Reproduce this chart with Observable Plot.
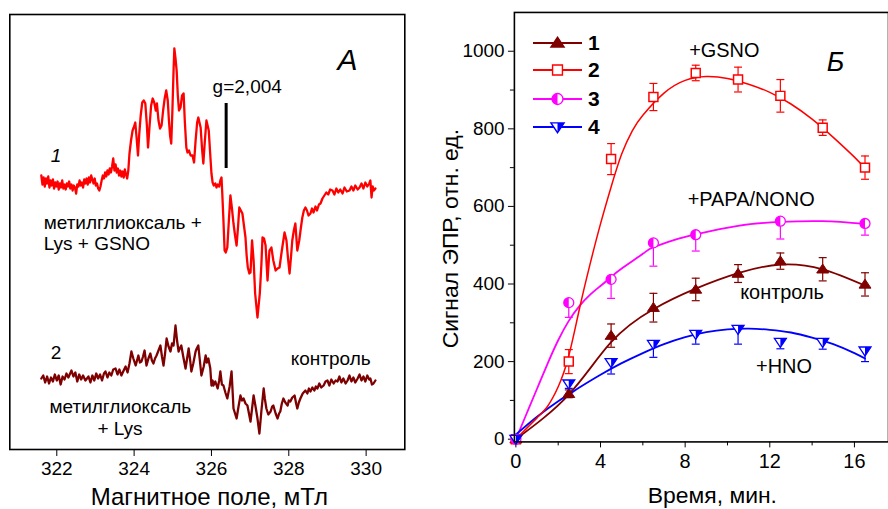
<!DOCTYPE html>
<html><head><meta charset="utf-8">
<script src="https://cdn.jsdelivr.net/npm/d3@7"></script>
<script src="https://cdn.jsdelivr.net/npm/@observablehq/plot@0.6"></script>
<style>
html,body{margin:0;padding:0;background:#fff;}
body{overflow:hidden;width:888px;height:509px;position:relative;font-family:"Liberation Sans",Arial,sans-serif;}
#left{position:absolute;left:0;top:0;}
#right{position:absolute;left:420px;top:0;}
</style></head><body>
<div id="left"></div><div id="right"></div>
<script>
// ---------- Panel A: EPR spectra (field in mT, signal in a.u.) ----------
const fieldTicks = [322, 324, 326, 328, 330];
const spec1Field = [321.60,321.63,321.66,321.69,321.72,321.75,321.78,321.81,321.84,321.87,321.90,321.93,321.96,321.99,322.02,322.05,322.08,322.11,322.14,322.17,322.20,322.23,322.26,322.29,322.32,322.35,322.38,322.41,322.44,322.47,322.50,322.53,322.56,322.59,322.62,322.65,322.68,322.71,322.74,322.77,322.80,322.83,322.86,322.89,322.92,322.95,322.98,323.01,323.04,323.07,323.10,323.13,323.16,323.19,323.22,323.25,323.28,323.31,323.34,323.37,323.40,323.43,323.46,323.49,323.52,323.55,323.58,323.61,323.64,323.67,323.70,323.73,323.76,323.79,323.82,323.85,323.88,323.92,323.96,323.99,324.03,324.07,324.10,324.13,324.17,324.21,324.25,324.29,324.33,324.36,324.40,324.44,324.48,324.52,324.56,324.59,324.63,324.67,324.71,324.75,324.79,324.83,324.87,324.90,324.93,324.96,324.99,325.02,325.04,325.07,325.10,325.13,325.16,325.20,325.24,325.28,325.31,325.35,325.38,325.42,325.46,325.51,325.55,325.59,325.63,325.66,325.69,325.72,325.76,325.79,325.83,325.87,325.90,325.93,325.97,326.00,326.03,326.06,326.10,326.13,326.16,326.20,326.23,326.26,326.28,326.31,326.34,326.37,326.41,326.45,326.49,326.53,326.57,326.61,326.65,326.69,326.72,326.76,326.80,326.84,326.88,326.91,326.94,326.98,327.01,327.05,327.09,327.13,327.16,327.19,327.22,327.25,327.29,327.32,327.36,327.40,327.45,327.50,327.55,327.60,327.66,327.71,327.76,327.82,327.89,327.94,327.98,328.02,328.06,328.09,328.13,328.17,328.22,328.27,328.31,328.35,328.39,328.43,328.47,328.51,328.56,328.60,328.64,328.69,328.73,328.78,328.82,328.87,328.92,328.97,329.02,329.07,329.13,329.18,329.23,329.28,329.33,329.39,329.44,329.50,329.57,329.62,329.67,329.72,329.78,329.83,329.88,329.93,329.98,330.03,330.08,330.11,330.14,330.17,330.20,330.24];
const spec1Signal = [5,-4,3,-6,2,-3,4,-7,0,-5,1,-8,-2,-6,-1,-9,-3,-7,0,-8,-4,-9,-3,-6,-1,-8,-4,-10,-5,-7,-13,-4,-6,0,-5,-2,-7,1,-3,2,-4,3,-2,5,1,-3,2,-5,-3,-8,-10,-6,0,5,2,8,4,10,6,12,8,14,22,10,16,8,12,5,10,4,9,3,11,6,2,10,27,40,50,53,58,40,25,45,65,78,80,77,55,33,55,75,82,78,70,77,60,52,55,70,82,90,80,60,45,37,70,110,132,122,110,85,70,73,85,87,60,33,28,30,25,25,18,40,58,63,58,53,30,17,40,60,55,50,25,7,-2,-5,-3,-7,-4,-6,0,3,-13,-40,-70,-72,-67,-40,-15,-28,-43,-55,-65,-45,-27,-30,-33,-45,-57,-75,-87,-93,-92,-60,-80,-113,-125,-137,-125,-113,-85,-57,-58,-65,-100,-70,-67,-80,-90,-88,-87,-70,-52,-60,-78,-93,-75,-60,-50,-43,-70,-60,-48,-37,-30,-27,-30,-35,-33,-28,-32,-26,-30,-24,-23,-18,-15,-12,-14,-9,-10,-14,-8,-12,-9,-13,-7,-11,-10,-6,-10,-5,-9,-7,-3,-8,-2,-6,-3,0,-17,-6,-10,-8];
const spec2Field = [321.60,321.65,321.70,321.75,321.80,321.85,321.90,321.95,322.00,322.05,322.10,322.15,322.20,322.25,322.30,322.38,322.43,322.48,322.53,322.58,322.63,322.68,322.74,322.82,322.87,322.92,322.97,323.02,323.07,323.12,323.17,323.22,323.26,323.31,323.36,323.41,323.46,323.52,323.57,323.62,323.67,323.73,323.78,323.83,323.88,323.93,323.98,324.04,324.11,324.15,324.19,324.23,324.27,324.32,324.37,324.42,324.46,324.50,324.54,324.58,324.63,324.68,324.72,324.76,324.80,324.84,324.89,324.94,324.98,325.02,325.07,325.11,325.15,325.18,325.22,325.27,325.33,325.37,325.41,325.45,325.48,325.53,325.59,325.62,325.66,325.70,325.74,325.80,325.85,325.88,325.92,325.97,326.00,326.03,326.05,326.10,326.16,326.20,326.23,326.27,326.31,326.36,326.41,326.47,326.52,326.55,326.57,326.61,326.65,326.70,326.75,326.79,326.83,326.88,326.93,326.97,327.01,327.05,327.09,327.14,327.19,327.24,327.29,327.35,327.38,327.42,327.47,327.53,327.57,327.60,327.66,327.71,327.75,327.78,327.82,327.86,327.91,327.97,328.00,328.04,328.09,328.15,328.19,328.22,328.26,328.30,328.36,328.43,328.48,328.52,328.56,328.61,328.66,328.70,328.74,328.79,328.84,328.90,328.95,329.00,329.05,329.10,329.16,329.21,329.26,329.31,329.36,329.41,329.47,329.52,329.57,329.62,329.67,329.72,329.78,329.83,329.88,329.93,329.98,330.03,330.08,330.11,330.15,330.19,330.24];
const spec2Signal = [0,3,-4,2,-5,1,-3,4,-2,3,-6,2,-1,5,1,8,2,6,-3,4,-1,3,-2,2,-4,3,-2,5,0,4,-2,5,7,1,6,3,9,10,4,9,3,8,12,6,15,27,20,13,23,16,17,22,28,13,20,25,18,15,20,23,28,33,22,13,25,40,32,27,35,33,53,38,27,30,33,22,10,20,30,18,7,15,27,30,33,18,3,12,23,16,20,10,-7,-2,-7,-3,-10,-2,7,-6,-7,-14,-20,-8,7,-15,-30,-35,-40,-28,-17,-22,-20,-25,-27,-35,-43,-30,-17,-28,-40,-55,-33,-10,-20,-30,-36,-33,-28,-27,-35,-40,-35,-33,-25,-20,-24,-27,-22,-23,-19,-17,-25,-30,-24,-20,-15,-12,-15,-10,-13,-9,-12,-8,-10,-5,-9,-7,-3,-2,-7,-1,-5,-2,-3,2,-4,0,-5,-2,3,-3,1,-4,0,4,-2,2,-3,3,-1,0,-6,-5,-2];
const traceOffsets = [269, 71];          // vertical shift of traces 1 and 2 (a.u.)
const gMarker = {field: 326.38, lo: 281, hi: 346};

const leftLabels = [
  {x: 321.98, y: 294, text: "1", italic: true, anchor: "middle"},
  {x: 321.98, y: 97, text: "2", italic: false, anchor: "middle"},
  {x: 321.66, y: 227, text: "метилглиоксаль +", anchor: "start"},
  {x: 321.66, y: 206, text: "Lys + GSNO", anchor: "start"},
  {x: 326.03, y: 363, text: "g=2,004", anchor: "start"},
  {x: 328.05, y: 91, text: "контроль", anchor: "start"},
  {x: 321.81, y: 43, text: "метилглиоксаль", anchor: "start"},
  {x: 323.05, y: 21, text: "+ Lys", anchor: "start"}
];
const panelALetter = {x: 329.52, y: 389, text: "A"};

// ---------- Panel Б: kinetics ----------
const times = [0, 2.5, 4.5, 6.5, 8.5, 10.5, 12.5, 14.5, 16.5];
const control = [0, 117, 267, 339, 386, 427, 459, 438, 399];
const controlErr = [0, 10, 30, 37, 29, 23, 21, 30, 30];
const gsno = [0, 200, 722, 882, 944, 927, 885, 803, 700];
const gsnoErr = [0, 31, 40, 35, 20, 32, 42, 20, 30];
const papaTimes = [0, 2.5, 4.5, 6.5, 8.5, 12.5, 16.5];
const papa = [0, 352, 412, 506, 527, 562, 556];
const papaErrDown = [0, 38, 49, 60, 42, 46, 30];
const hno = [0, 143, 198, 245, 271, 284, 250, 250, 228];
const hnoErrDown = [0, 12, 30, 34, 26, 39, 17, 18, 28];

const controlFitT = [0, 2.5, 4.5, 6.5, 8.5, 10.5, 12.5, 14.5, 16.5];
const controlFit = [0, 115, 250, 335, 388, 428, 450, 438, 396];
const gsnoFitT = [0, 1, 1.5, 2, 2.5, 3, 3.5, 4, 4.5, 5, 5.5, 6, 7, 8, 9, 10, 11, 12, 13, 14, 15, 16, 16.5];
const gsnoFit = [0, 55, 85, 135, 215, 335, 450, 555, 650, 735, 795, 835, 892, 925, 935, 930, 915, 894, 864, 825, 778, 727, 698];
const papaFitT = [0, 0.5, 1, 1.5, 2, 2.5, 3, 3.5, 4, 4.5, 5, 6, 6.5, 7.5, 8.5, 10.5, 12.5, 14.5, 16.5];
const papaFit = [0, 65, 130, 195, 255, 305, 343, 372, 395, 418, 440, 478, 495, 514, 528, 550, 560, 562, 555];
const hnoFitT = [0, 1, 2, 2.5, 3, 4, 5, 6, 7, 8, 9, 10, 11, 12, 13, 14, 15, 16, 16.5];
const hnoFit = [12, 58, 98, 115, 133, 166, 196, 222, 245, 263, 276, 283, 285, 282, 275, 262, 245, 222, 208];

const yTicks = [0, 200, 400, 600, 800, 1000];
const yMinor = [100, 300, 500, 700, 900];
const xTicks = [0, 4, 8, 12, 16];
const xMinor = [2, 6, 10, 14];

const rightLabels = [
  {x: 9.85, y: 1002, text: "+GSNO"},
  {x: 11.12, y: 617, text: "+PAPA/NONO"},
  {x: 12.58, y: 379, text: "контроль"},
  {x: 12.67, y: 186, text: "+HNO"}
];
const panelBLetter = {x: 15.11, y: 971, text: "Б"};
const yTitle = {x: -3.09, y: 517, text: "Сигнал ЭПР, отн. ед."};

const colors = {c1: "#800000", c2: "#ff0000", c3: "#ff00ff", c4: "#0000ff", spec2: "#7f0000"};
const FONT = "Liberation Sans, Arial, sans-serif";

// ---------- custom symbols ----------
const rOf = s => Math.sqrt(s / Math.PI);
const triUp = {draw(c, s){const r = rOf(s); c.moveTo(0, -r*1.05); c.lineTo(r*1.2, r*0.75); c.lineTo(-r*1.2, r*0.75); c.closePath();}};
const triDown = {draw(c, s){const r = rOf(s); c.moveTo(-r*1.2, -r*0.75); c.lineTo(r*1.2, -r*0.75); c.lineTo(0, r*1.05); c.closePath();}};
const triDownRight = {draw(c, s){const r = rOf(s); c.moveTo(0, -r*0.75); c.lineTo(r*1.2, -r*0.75); c.lineTo(0, r*1.05); c.closePath();}};
const square = {draw(c, s){const r = rOf(s)*0.9; c.rect(-r, -r, 2*r, 2*r);}};
const circ = {draw(c, s){const r = rOf(s); c.moveTo(r, 0); c.arc(0, 0, r, 0, 2*Math.PI);}};
const circLeft = {draw(c, s){const r = rOf(s); c.moveTo(0, -r); c.arc(0, 0, r, -Math.PI/2, Math.PI/2, true); c.closePath();}};
const cap = {draw(c, s){const r = rOf(s); c.moveTo(-r, 0); c.lineTo(r, 0);}};

// ---------- Left panel ----------
const s1 = spec1Field.map((f, i) => ({field: f, v: traceOffsets[0] + spec1Signal[i]}));
const s2 = spec2Field.map((f, i) => ({field: f, v: traceOffsets[1] + spec2Signal[i]}));

const left = Plot.plot({
  width: 420, height: 509,
  marginLeft: 9.3, marginRight: 15.7, marginTop: 14, marginBottom: 60,
  style: {fontFamily: FONT, fontSize: "19px", color: "#000", background: "transparent"},
  x: {domain: [320.785, 331.0]},
  y: {domain: [0, 435], axis: null},
  marks: [
    Plot.axisX({ticks: fieldTicks, tickSize: 7, tickPadding: 5, label: null, fontSize: 19, tickFormat: d => String(d)}),
    Plot.line(s2, {x: "field", y: "v", stroke: colors.spec2, strokeWidth: 2.3, strokeLinejoin: "round"}),
    Plot.line(s1, {x: "field", y: "v", stroke: colors.c2, strokeWidth: 2.3, strokeLinejoin: "round"}),
    Plot.ruleX([gMarker], {x: "field", y1: "lo", y2: "hi", stroke: "#000", strokeWidth: 3}),
    Plot.text(leftLabels.filter(d => d.anchor === "start"), {x: "x", y: "y", text: "text", textAnchor: "start", fontSize: 19, fill: "#000"}),
    Plot.text(leftLabels.filter(d => d.anchor === "middle" && d.italic), {x: "x", y: "y", text: "text", fontSize: 19, fontStyle: "italic", fill: "#000"}),
    Plot.text(leftLabels.filter(d => d.anchor === "middle" && !d.italic), {x: "x", y: "y", text: "text", fontSize: 19, fill: "#000"}),
    Plot.text([panelALetter], {x: "x", y: "y", text: "text", fontSize: 30, fontStyle: "italic", fill: "#000"}),
    Plot.text(["Магнитное поле, мТл"], {frameAnchor: "bottom", dx: 2, dy: 48, fontSize: 24, lineAnchor: "middle"}),
    Plot.frame({stroke: "#000", strokeWidth: 1.6})
  ]
});
document.getElementById("left").appendChild(left);

// ---------- Right panel ----------
const p1 = times.map((t, i) => ({t, v: control[i], lo: control[i] - controlErr[i], hi: control[i] + controlErr[i]}));
const p2 = times.map((t, i) => ({t, v: gsno[i], lo: gsno[i] - gsnoErr[i], hi: gsno[i] + gsnoErr[i]}));
const p3 = papaTimes.map((t, i) => ({t, v: papa[i], lo: papa[i] - papaErrDown[i], hi: papa[i]}));
const p4 = times.map((t, i) => ({t, v: hno[i], lo: hno[i] - hnoErrDown[i], hi: hno[i]}));
const f1 = controlFitT.map((t, i) => ({t, v: controlFit[i]}));
const f2 = gsnoFitT.map((t, i) => ({t, v: gsnoFit[i]}));
const f3 = papaFitT.map((t, i) => ({t, v: papaFit[i]}));
const f4 = hnoFitT.map((t, i) => ({t, v: hnoFit[i]}));

function errMarks(data, color, both) {
  const dd = data.filter(d => d.hi > d.lo);
  const m = [
    Plot.ruleX(dd, {x: "t", y1: "lo", y2: "hi", stroke: color, strokeWidth: 1.2}),
    Plot.dot(dd, {x: "t", y: "lo", symbol: cap, r: 4, stroke: color, strokeWidth: 1.2, fill: "none"})
  ];
  if (both) m.push(Plot.dot(dd, {x: "t", y: "hi", symbol: cap, r: 4, stroke: color, strokeWidth: 1.2, fill: "none"}));
  return m;
}

const right = Plot.plot({
  width: 470, height: 509,
  marginLeft: 94.3, marginRight: 0, marginTop: 12, marginBottom: 65.7,
  style: {fontFamily: FONT, fontSize: "19px", color: "#000", background: "transparent", overflow: "visible"},
  x: {domain: [-0.07, 17.61]},
  y: {domain: [-7, 1100]},
  marks: [
    Plot.axisY({ticks: yTicks, tickSize: 6, tickPadding: 4, fontSize: 19, label: null, tickFormat: d => String(d)}),
    Plot.axisY({ticks: yMinor, tickSize: 4, text: null, label: null}),
    Plot.axisX({ticks: xTicks, tickSize: 6, tickPadding: 6, fontSize: 20, label: null, tickFormat: d => String(d)}),
    Plot.axisX({ticks: xMinor, tickSize: 4, text: null, label: null}),
    Plot.text([yTitle], {x: "x", y: "y", text: "text", rotate: -90, fontSize: 23, clip: false}),
    Plot.text(["Время, мин."], {frameAnchor: "bottom", dx: 11, dy: 54, fontSize: 23, lineAnchor: "middle"}),
    ...errMarks(p1, colors.c1, true),
    ...errMarks(p2, colors.c2, true),
    ...errMarks(p3, colors.c3, false),
    ...errMarks(p4, colors.c4, false),
    Plot.line(f3, {x: "t", y: "v", stroke: colors.c3, strokeWidth: 1.8, curve: "natural"}),
    Plot.line(f1, {x: "t", y: "v", stroke: colors.c1, strokeWidth: 1.8, curve: "natural"}),
    Plot.line(f4, {x: "t", y: "v", stroke: colors.c4, strokeWidth: 1.8, curve: "natural"}),
    Plot.line(f2, {x: "t", y: "v", stroke: colors.c2, strokeWidth: 1.5, curve: "natural"}),
    Plot.dot(p1, {x: "t", y: "v", symbol: triUp, r: 5, fill: colors.c1, stroke: colors.c1, strokeWidth: 1}),
    Plot.dot(p2, {x: "t", y: "v", symbol: square, r: 5, fill: "#fff", stroke: colors.c2, strokeWidth: 1.5}),
    Plot.dot(p3, {x: "t", y: "v", symbol: circ, r: 5, fill: "#fff", stroke: colors.c3, strokeWidth: 1.3}),
    Plot.dot(p3, {x: "t", y: "v", symbol: circLeft, r: 5, fill: colors.c3, stroke: "none"}),
    Plot.dot(p4, {x: "t", y: "v", symbol: triDown, r: 5, fill: "#fff", stroke: colors.c4, strokeWidth: 1.3}),
    Plot.dot(p4, {x: "t", y: "v", symbol: triDownRight, r: 5, fill: colors.c4, stroke: "none"}),
    Plot.text(rightLabels, {x: "x", y: "y", text: "text", fontSize: 20, fill: "#000"}),
    Plot.text([panelBLetter], {x: "x", y: "y", text: "text", fontSize: 27, fontStyle: "italic", fill: "#000"}),
    Plot.frame({stroke: "#000", strokeWidth: 1.6})
  ]
});
document.getElementById("right").appendChild(right);

// ---------- Legend (Б) ----------
const legendItems = [
  {label: "1", color: colors.c1, sym: [[triUp, colors.c1, colors.c1]]},
  {label: "2", color: colors.c2, sym: [[square, "#fff", colors.c2]]},
  {label: "3", color: colors.c3, sym: [[circ, "#fff", colors.c3], [circLeft, colors.c3, "none"]]},
  {label: "4", color: colors.c4, sym: [[triDown, "#fff", colors.c4], [triDownRight, colors.c4, "none"]]}
];
const leg = d3.create("svg").attr("width", 110).attr("height", 120)
  .style("position", "absolute").style("left", "100px").style("top", "25px");
const rows = [18, 45, 74, 102];
legendItems.forEach((it, i) => {
  const g = leg.append("g").attr("transform", `translate(0,${rows[i]})`);
  g.append("line").attr("x1", 13).attr("x2", 62).attr("stroke", it.color).attr("stroke-width", 2);
  it.sym.forEach(([sy, fill, stroke]) => {
    g.append("path").attr("transform", "translate(37.5,0)")
      .attr("d", d3.symbol(sy, 30 * Math.PI)())
      .attr("fill", fill).attr("stroke", stroke).attr("stroke-width", 1.4);
  });
  g.append("text").attr("x", 68).attr("dy", "0.35em").attr("font-family", FONT)
    .attr("font-size", 21).attr("font-weight", "bold").text(it.label);
});
document.getElementById("right").appendChild(leg.node());
</script>
</body></html>
